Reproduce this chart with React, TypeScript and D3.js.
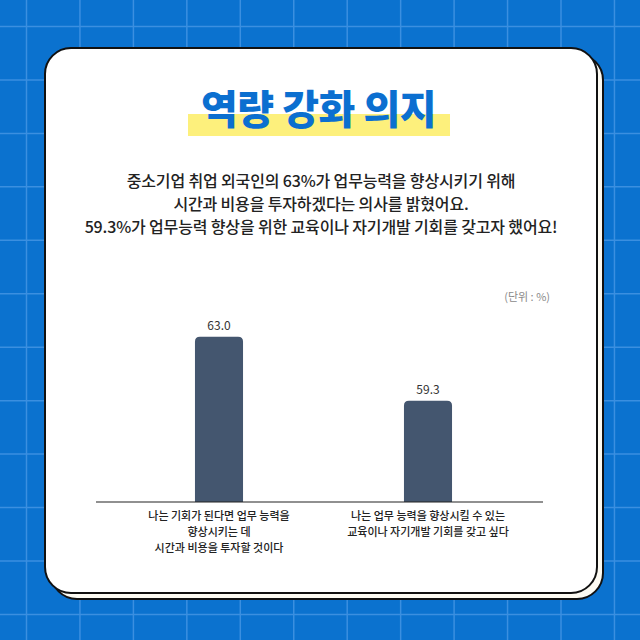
import React from 'react';
import * as d3 from 'd3';

// Chart data
const categories = ['A', 'B'];
const values = [63.0, 59.3];
const valueLabels = ['63.0', '59.3'];
const categoryLines = [
  ['나는 기회가 된다면 업무 능력을', '향상시키는 데', '시간과 비용을 투자할 것이다'],
  ['나는 업무 능력을 향상시킬 수 있는', '교육이나 자기개발 기회를 갖고 싶다'],
];
const yDomain: [number, number] = [53.45, 65];

const title = '역량 강화 의지';
const subtitleLines = [
  '중소기업 취업 외국인의 63%가 업무능력을 향상시키기 위해',
  '시간과 비용을 투자하겠다는 의사를 밝혔어요.',
  '59.3%가 업무능력 향상을 위한 교육이나 자기개발 기회를 갖고자 했어요!',
];
const unitLabel = '(단위 : %)';

const W = 640;
const H = 640;
const FONT = '"Noto Sans CJK KR", "Noto Sans", sans-serif';

const topRoundedBar = (x: number, y: number, w: number, h: number, r: number) => {
  const rr = Math.min(r, w / 2, h);
  return `M${x},${y + h}V${y + rr}Q${x},${y} ${x + rr},${y}H${x + w - rr}Q${x + w},${y} ${x + w},${y + rr}V${y + h}Z`;
};

const App: React.FC = () => {
  const gridLines = d3.range(0, 12).map(i => 26.5 + i * 53.45);

  const x = d3.scaleBand<string>()
    .domain(categories)
    .range([114.5, 532.5])
    .paddingInner(0.77)
    .paddingOuter(0.385);

  const y = d3.scaleLinear().domain(yDomain).range([502, 302]);
  const baseY = y(yDomain[0]);

  return (
    <svg width={W} height={H} style={{ position: 'absolute', left: 0, top: 0 }} fontFamily={FONT}>
      <rect width={W} height={H} fill="#0b72cf" />
      <g stroke="#3b8fe0" strokeWidth={1.5}>
        {gridLines.map((g, i) => (
          <React.Fragment key={i}>
            <line x1={g} x2={g} y1={0} y2={H} />
            <line x1={0} x2={W} y1={g} y2={g} />
          </React.Fragment>
        ))}
      </g>

      {/* card with offset back sheet */}
      <rect x={51} y={54} width={552} height={545} rx={26} fill="#fdfbf3" stroke="#111" strokeWidth={2} />
      <rect x={45} y={48} width={552} height={545} rx={26} fill="#ffffff" stroke="#111" strokeWidth={2} />

      {/* title */}
      <rect x={188} y={114} width={262} height={22} fill="#fdf07c" />
      <text x={318.5} y={124} textAnchor="middle" fontSize={40} fontWeight={900} fill="#0b6fd0" letterSpacing={-0.5}>
        {title}
      </text>

      <g fontSize={16} fontWeight={500} fill="#222" textAnchor="middle" letterSpacing={-0.15}>
        {subtitleLines.map((l, i) => (
          <text key={i} x={321} y={187 + i * 23}>{l}</text>
        ))}
      </g>

      <text x={550} y={301} textAnchor="end" fontSize={11} fill="#8a8a8a">{unitLabel}</text>

      {/* bars */}
      {categories.map((c, i) => {
        const bx = x(c)!;
        const bw = x.bandwidth();
        const by = y(values[i]);
        return (
          <g key={c}>
            <path d={topRoundedBar(bx, by, bw, baseY - by, 5)} fill="#44566f" />
            <text x={bx + bw / 2} y={by - 6.5} textAnchor="middle" fontSize={12} fill="#333">
              {valueLabels[i]}
            </text>
            {categoryLines[i].map((l, j) => (
              <text key={j} x={bx + bw / 2} y={519.5 + j * 16} textAnchor="middle" fontSize={11} fontWeight={500} fill="#222" letterSpacing={0}>
                {l}
              </text>
            ))}
          </g>
        );
      })}
      <line x1={96} x2={543} y1={baseY} y2={baseY} stroke="#222" strokeWidth={1.2} />
    </svg>
  );
};

export default App;
